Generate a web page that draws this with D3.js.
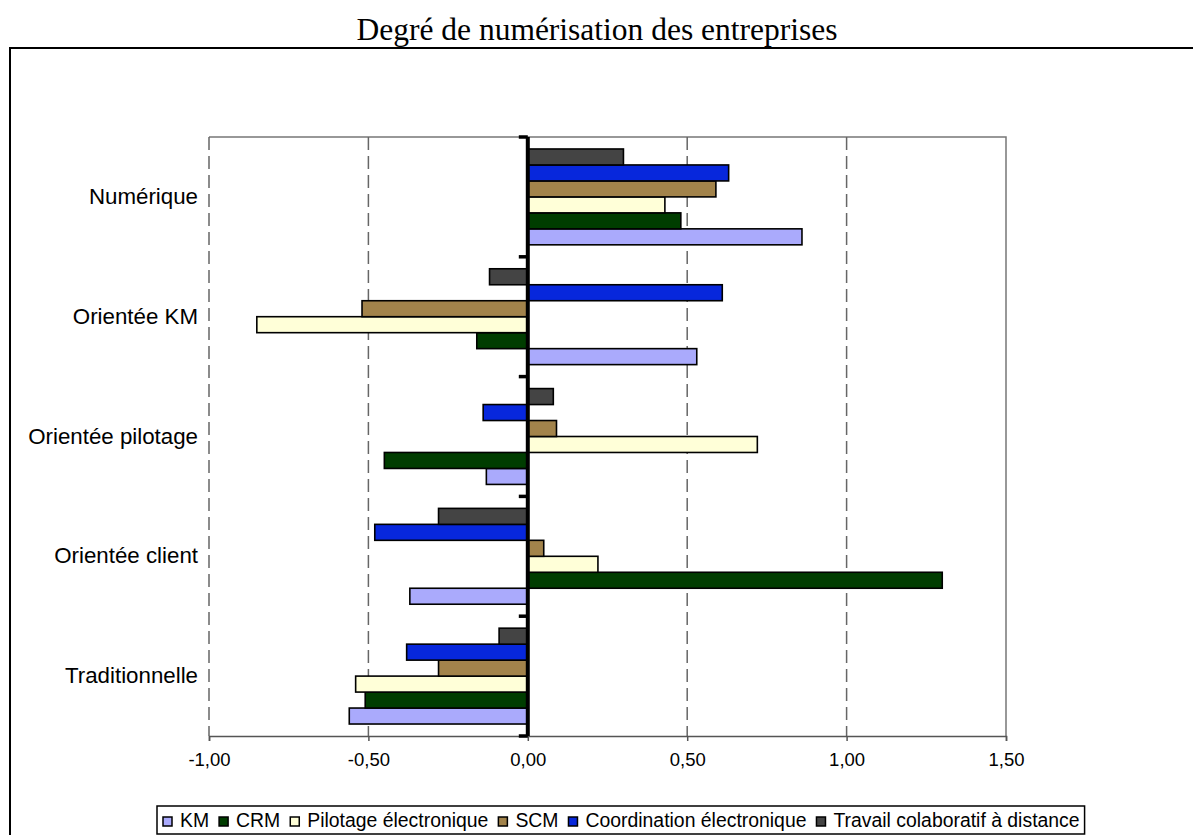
<!DOCTYPE html>
<html>
<head>
<meta charset="utf-8">
<script src="https://cdn.jsdelivr.net/npm/d3@7"></script>
<style>
  html, body { margin: 0; padding: 0; background: #fff; }
  svg { display: block; }
</style>
</head>
<body>
<svg id="chart" width="1193" height="835"></svg>
<script>
// ---- data ----
const title = "Degré de numérisation des entreprises";
const categories = ["Numérique", "Orientée KM", "Orientée pilotage", "Orientée client", "Traditionnelle"];
const seriesNames = ["KM", "CRM", "Pilotage électronique", "SCM", "Coordination électronique", "Travail colaboratif à distance"];
const seriesColors = ["#aaaafc", "#003d00", "#ffffd8", "#a2834b", "#0727dc", "#444444"];
// values per series, in the order of categories
const kmValues           = [0.86, 0.53, -0.13, -0.37, -0.56];
const crmValues          = [0.48, -0.16, -0.45, 1.30, -0.51];
const pilotageValues     = [0.43, -0.85, 0.72, 0.22, -0.54];
const scmValues          = [0.59, -0.52, 0.09, 0.05, -0.28];
const coordinationValues = [0.63, 0.61, -0.14, -0.48, -0.38];
const travailValues      = [0.30, -0.12, 0.08, -0.28, -0.09];
const xTicks = [-1.0, -0.5, 0.0, 0.5, 1.0, 1.5];

const seriesValues = [kmValues, crmValues, pilotageValues, scmValues, coordinationValues, travailValues];

// ---- layout ----
const svg = d3.select("#chart");
const plot = { left: 209, right: 1006, top: 137, bottom: 736 };

const fr = d3.formatLocale({ decimal: ",", thousands: " ", grouping: [3], currency: ["", " €"], minus: "-" });
const fmt = fr.format(".2f");

const x = d3.scaleLinear().domain([-1, 1.5]).range([plot.left, plot.right]);
const y = d3.scaleBand().domain(categories).range([plot.top, plot.bottom])
  .paddingInner(0.2).paddingOuter(0.1);
// within a group: last series on top, first at bottom
const ySub = d3.scaleBand().domain(seriesNames.slice().reverse()).range([0, y.bandwidth()]);

// outer frame
svg.append("rect")
  .attr("x", 10).attr("y", 48).attr("width", 1300).attr("height", 900)
  .attr("fill", "none").attr("stroke", "#000").attr("stroke-width", 2);

// title
svg.append("text")
  .attr("x", 597).attr("y", 40)
  .attr("text-anchor", "middle")
  .attr("font-family", "'Liberation Serif', 'Times New Roman', serif")
  .attr("font-size", 31.5)
  .text(title);

// plot border (top & right)
svg.append("path")
  .attr("d", `M${plot.left},${plot.top}H${plot.right}V${plot.bottom}`)
  .attr("fill", "none").attr("stroke", "#777").attr("stroke-width", 1.5);

// vertical dashed gridlines
const gridVals = xTicks.filter(v => v !== 0 && v !== 1.5);
svg.append("g").selectAll("line").data(gridVals).join("line")
  .attr("x1", d => x(d)).attr("x2", d => x(d))
  .attr("y1", plot.top).attr("y2", plot.bottom)
  .attr("stroke", "#666").attr("stroke-width", 1.5)
  .attr("stroke-dasharray", "13,6");

// bottom axis
const xAxis = d3.axisBottom(x).tickValues(xTicks).tickFormat(fmt).tickSize(5).tickPadding(12);
const gx = svg.append("g").attr("transform", `translate(0,${plot.bottom})`).call(xAxis);
gx.select(".domain").attr("stroke", "#555").attr("stroke-width", 1.5);
gx.selectAll(".tick line").attr("stroke", "#555").attr("stroke-width", 1.5);
gx.selectAll(".tick text")
  .attr("font-family", "'Liberation Sans', Arial, sans-serif")
  .attr("font-size", 18.5).attr("fill", "#000");

// bars
const barData = [];
categories.forEach((c, ci) => {
  seriesNames.forEach((s, si) => {
    barData.push({ cat: c, series: s, value: seriesValues[si][ci], color: seriesColors[si] });
  });
});
svg.append("g").selectAll("rect").data(barData).join("rect")
  .attr("x", d => x(Math.min(0, d.value)))
  .attr("width", d => Math.abs(x(d.value) - x(0)))
  .attr("y", d => y(d.cat) + ySub(d.series))
  .attr("height", ySub.bandwidth())
  .attr("fill", d => d.color)
  .attr("stroke", "#000").attr("stroke-width", 1.6);

// zero axis (thick) with category ticks
const boundaries = d3.range(categories.length + 1).map(i => plot.top + i * (plot.bottom - plot.top) / categories.length);
svg.append("g").selectAll("line").data(boundaries).join("line")
  .attr("x1", x(0) - 9).attr("x2", x(0))
  .attr("y1", d => d).attr("y2", d => d)
  .attr("stroke", "#000").attr("stroke-width", 3.5);
svg.append("line")
  .attr("x1", x(0)).attr("x2", x(0))
  .attr("y1", plot.top).attr("y2", plot.bottom)
  .attr("stroke", "#000").attr("stroke-width", 4);

// category labels
svg.append("g").selectAll("text").data(categories).join("text")
  .attr("x", 198)
  .attr("y", d => y(d) + y.bandwidth() / 2 + 7)
  .attr("text-anchor", "end")
  .attr("font-family", "'Liberation Sans', Arial, sans-serif")
  .attr("font-size", 22.3)
  .text(d => d);

// legend
const legend = svg.append("g");
const legX = 157, legY = 806, legH = 28;
const legBox = legend.append("rect")
  .attr("x", legX).attr("y", legY).attr("height", legH)
  .attr("fill", "#fff").attr("stroke", "#000").attr("stroke-width", 1.5);
let cx = legX + 6;
seriesNames.forEach((s, i) => {
  legend.append("rect")
    .attr("x", cx).attr("y", legY + 11).attr("width", 9).attr("height", 9)
    .attr("fill", seriesColors[i]).attr("stroke", "#000").attr("stroke-width", 1.5);
  const t = legend.append("text")
    .attr("x", cx + 17).attr("y", legY + 21)
    .attr("font-family", "'Liberation Sans', Arial, sans-serif")
    .attr("font-size", 19.4)
    .text(s);
  const w = t.node().getComputedTextLength();
  cx = cx + 17 + w + 10;
});
legBox.attr("width", cx - 10 + 5 - legX);
</script>
</body>
</html>
